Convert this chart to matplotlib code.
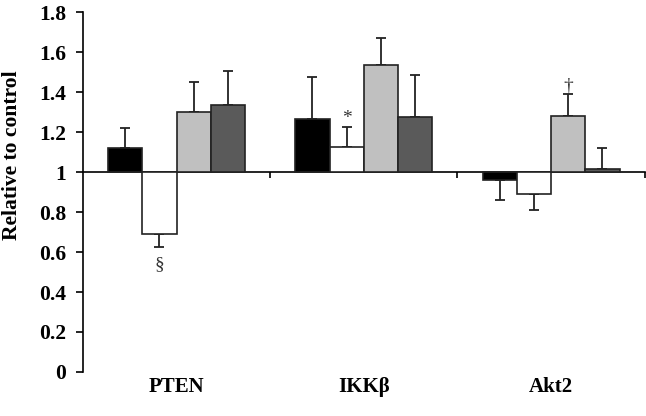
import numpy as np
import matplotlib
matplotlib.use('Agg')
import matplotlib.pyplot as plt

plt.rcParams['font.family'] = ['Liberation Serif', 'DejaVu Serif']
plt.rcParams['font.weight'] = 'bold'

# Data
genes = ['PTEN', 'IKK\u03b2', 'Akt2']
black = [1.12, 1.265, 0.96]
white = [0.69, 1.125, 0.888]
light = [1.30, 1.535, 1.28]
dark = [1.335, 1.273, 1.013]
black_err = [0.10, 0.21, 0.10]
white_err = [0.065, 0.10, 0.078]
light_err = [0.15, 0.135, 0.11]
dark_err = [0.17, 0.21, 0.105]
marks = [(1, 0, '\u00a7'), (1, 1, '*'), (2, 2, '\u2020')]  # (series, gene, symbol)

series = [black, white, light, dark]
errs = [black_err, white_err, light_err, dark_err]
colors = ['#000000', '#ffffff', '#c0c0c0', '#5a5a5a']

fig = plt.figure(figsize=(6.46, 4.16), dpi=100)
ax = fig.add_axes([0.1285, 0.1058, 0.8695, 0.8652])

x = np.arange(1, len(genes) + 1)
w = 0.183
offsets = (np.arange(4) - 1.5) * w

for i, (vals, e, c) in enumerate(zip(series, errs, colors)):
    vals = np.array(vals)
    e = np.array(e)
    ax.bar(x + offsets[i], vals - 1, bottom=1, width=w, color=c,
           edgecolor='#222222', linewidth=1.2, zorder=3)
    up = np.where(vals >= 1, e, 0)
    lo = np.where(vals < 1, e, 0)
    ax.errorbar(x + offsets[i], vals, yerr=[lo, up], fmt='none',
                ecolor='#222222', elinewidth=1.3, capsize=3.5, capthick=1.3, zorder=2)

for s, g, sym in marks:
    v = series[s][g]
    e = errs[s][g]
    if v < 1:
        ax.text(x[g] + offsets[s], v - e - 0.045, sym, ha='center', va='top',
                fontsize=14, fontweight='normal', color='#333333')
    else:
        ax.text(x[g] + offsets[s], v + e + 0.0, sym, ha='center', va='bottom',
                fontsize=14, fontweight='normal', color='#333333')

ax.set_xlim(0.5, 3.5)
ax.set_ylim(0, 1.8)
ax.set_yticks(np.arange(0, 1.81, 0.2))
ax.set_yticklabels(['0', '0.2', '0.4', '0.6', '0.8', '1', '1.2', '1.4', '1.6', '1.8'])
ax.tick_params(axis='y', direction='out', length=5, width=1.2, labelsize=15.5, pad=7)

ax.spines['bottom'].set_position(('data', 1))
ax.spines['top'].set_visible(False)
ax.spines['right'].set_visible(False)
ax.spines['left'].set_linewidth(1.2)
ax.spines['bottom'].set_linewidth(1.2)
ax.set_xticks([1.5, 2.5, 3.5])
ax.set_xticklabels([])
ax.tick_params(axis='x', direction='out', length=4, width=1.2)

for xi, g in zip(x, genes):
    ax.text(xi, -0.075, g, ha='center', va='center', fontsize=15, fontweight='bold')

fig.text(12 / 646, 1 - 155 / 416, 'Relative to control', rotation=90,
         ha='center', va='center', fontsize=15.5, fontweight='bold')

fig.savefig('out.png', dpi=100)
